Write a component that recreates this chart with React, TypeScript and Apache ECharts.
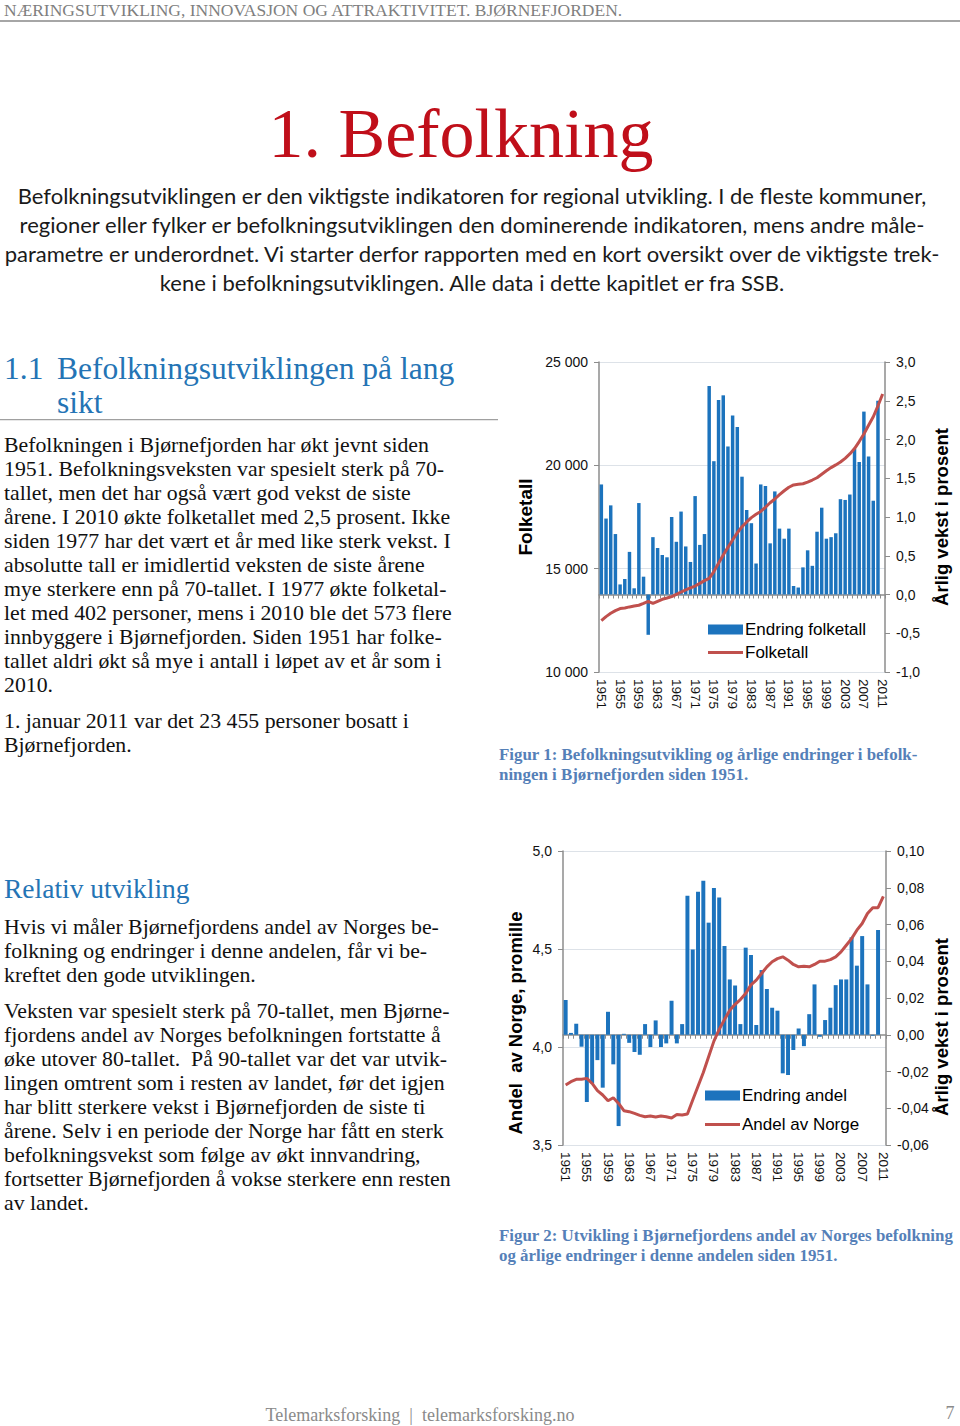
import React, { useEffect, useRef } from "react";
import * as echarts from "echarts";

const years = [
  1951, 1952, 1953, 1954, 1955, 1956, 1957, 1958, 1959, 1960,
  1961, 1962, 1963, 1964, 1965, 1966, 1967, 1968, 1969, 1970,
  1971, 1972, 1973, 1974, 1975, 1976, 1977, 1978, 1979, 1980,
  1981, 1982, 1983, 1984, 1985, 1986, 1987, 1988, 1989, 1990,
  1991, 1992, 1993, 1994, 1995, 1996, 1997, 1998, 1999, 2000,
  2001, 2002, 2003, 2004, 2005, 2006, 2007, 2008, 2009, 2010, 2011,
].map(String);

// Figur 1: årlig vekst i prosent (stolper) og folketall (linje)
const endringFolketall = [
  1.42, 0.98, 1.15, 0.78, 0.13, 0.2, 0.55, 0.08, 1.18, 0.23,
  -0.52, 0.74, 0.6, 0.51, 0.48, 1.0, 0.68, 1.07, 0.62, 0.42,
  1.27, 0.64, 0.78, 2.69, 1.72, 2.51, 2.57, 1.91, 2.31, 2.16,
  1.52, 1.09, 0.92, 0.4, 1.42, 1.4, 0.66, 1.33, 0.85, 0.72,
  0.85, 0.11, 0.09, 0.35, 0.57, 0.37, 0.81, 1.12, 0.72, 0.74,
  0.79, 1.23, 1.22, 1.29, 1.88, 1.71, 2.36, 1.78, 1.21, 2.5, null,
];
const folketall = [
  12480, 12680, 12840, 12970, 13070, 13100, 13150, 13190, 13230, 13320,
  13420, 13320, 13420, 13520, 13580, 13650, 13760, 13870, 13970, 14070,
  14160, 14290, 14420, 14530, 14860, 15260, 15660, 16030, 16390, 16740,
  17030, 17260, 17470, 17630, 17770, 17970, 18190, 18370, 18580, 18770,
  18940, 19050, 19080, 19110, 19190, 19290, 19400, 19570, 19740, 19890,
  20020, 20160, 20340, 20550, 20810, 21150, 21520, 21940, 22350, 22880, 23455,
];

// Figur 2: endring i andel (stolper) og andel av Norge, promille (linje)
const endringAndel = [
  0.0189, 0.001, 0.006, -0.0065, -0.0366, -0.0265, -0.0138, -0.0288, 0.0125, -0.0161,
  -0.0497, 0.0005, -0.0044, -0.0094, -0.0109, 0.0058, -0.0067, 0.0078, -0.0067, -0.0047,
  0.0185, -0.0047, 0.0058, 0.0757, 0.0464, 0.0778, 0.0838, 0.061, 0.0798, 0.0747,
  0.0483, 0.0301, 0.0268, 0.0058, 0.0474, 0.0434, 0.0053, 0.0352, 0.0249, 0.0147,
  0.0131, -0.021, -0.0219, -0.0083, 0.0034, -0.0062, 0.0112, 0.0274, -0.0011, 0.008,
  0.0147, 0.027, 0.0301, 0.0301, 0.053, 0.0376, 0.0537, 0.0274, -0.0005, 0.057, null,
];
const andelAvNorge = [
  3.806, 3.823, 3.835, 3.836, 3.84, 3.814, 3.777, 3.755, 3.726, 3.741,
  3.712, 3.675, 3.67, 3.661, 3.651, 3.644, 3.648, 3.643, 3.648, 3.644,
  3.638, 3.656, 3.653, 3.658, 3.73, 3.8, 3.87, 3.95, 4.03, 4.09,
  4.14, 4.188, 4.218, 4.242, 4.273, 4.317, 4.341, 4.375, 4.409, 4.435,
  4.451, 4.46, 4.443, 4.421, 4.409, 4.412, 4.409, 4.421, 4.438, 4.438,
  4.446, 4.46, 4.485, 4.519, 4.553, 4.596, 4.63, 4.681, 4.711, 4.711, 4.769,
];

const headerText = "NÆRINGSUTVIKLING, INNOVASJON OG ATTRAKTIVITET. BJØRNEFJORDEN.";
const titleText = "1. Befolkning";
const introLines = [
  "Befolkningsutviklingen er den viktigste indikatoren for regional utvikling. I de fleste kommuner,",
  "regioner eller fylker er befolkningsutviklingen den dominerende indikatoren, mens andre måle-",
  "parametre er underordnet. Vi starter derfor rapporten med en kort oversikt over de viktigste trek-",
  "kene i befolkningsutviklingen. Alle data i dette kapitlet er fra SSB.",
];
const para1Lines = [
  "Befolkningen i Bjørnefjorden har økt jevnt siden",
  "1951. Befolkningsveksten var spesielt sterk på 70-",
  "tallet, men det har også vært god vekst de siste",
  "årene. I 2010 økte folketallet med 2,5 prosent. Ikke",
  "siden 1977 har det vært et år med like sterk vekst. I",
  "absolutte tall er imidlertid veksten de siste årene",
  "mye sterkere enn på 70-tallet. I 1977 økte folketal-",
  "let med 402 personer, mens i 2010 ble det 573 flere",
  "innbyggere i Bjørnefjorden. Siden 1951 har folke-",
  "tallet aldri økt så mye i antall i løpet av et år som i",
  "2010.",
];
const para2Lines = ["1. januar 2011 var det 23 455 personer bosatt i", "Bjørnefjorden."];
const para3Lines = [
  "Hvis vi måler Bjørnefjordens andel av Norges be-",
  "folkning og endringer i denne andelen, får vi be-",
  "kreftet den gode utviklingen.",
];
const para4Lines = [
  "Veksten var spesielt sterk på 70-tallet, men Bjørne-",
  "fjordens andel av Norges befolkningen fortstatte å",
  "øke utover 80-tallet.  På 90-tallet var det var utvik-",
  "lingen omtrent som i resten av landet, før det igjen",
  "har blitt sterkere vekst i Bjørnefjorden de siste ti",
  "årene. Selv i en periode der Norge har fått en sterk",
  "befolkningsvekst som følge av økt innvandring,",
  "fortsetter Bjørnefjorden å vokse sterkere enn resten",
  "av landet.",
];
const caption1 = [
  "Figur 1: Befolkningsutvikling og årlige endringer i befolk-",
  "ningen i Bjørnefjorden siden 1951.",
];
const caption2 = [
  "Figur 2: Utvikling i Bjørnefjordens andel av Norges befolkning",
  "og årlige endringer i denne andelen siden 1951.",
];

const SERIF = '"Liberation Serif", "Times New Roman", serif';
const SANS = '"Liberation Sans", Arial, sans-serif';
const BLUE_HEAD = "#2474b5";
const CAPTION = "#5580b8";
const BAR = "#1c73bd";
const LINE = "#c0504d";
const AXIS = "#8c8c8c";
const LINE_ICON = "path://M0,0 M35,10 M0,3.5 L35,3.5 L35,6.5 L0,6.5 Z";

function txt(x: number, y: number, text: string, font: string, fill: string, align = "left", rotation = 0) {
  return {
    type: "text",
    x,
    y,
    rotation,
    silent: true,
    style: { text, font, fill, align, verticalAlign: "middle" },
  };
}

function linesAt(x: number, y0: number, step: number, lines: string[], font: string, fill: string, align = "left") {
  return lines.map((l, i) => txt(x, y0 + i * step, l, font, fill, align));
}

const fmtThousand = (v: number) => String(Math.round(v)).replace(/\B(?=(\d{3})+(?!\d))/g, " ");
const fmtDec = (d: number) => (v: number) => (Math.abs(v) < 1e-9 ? 0 : v).toFixed(d).replace(".", ",");

function catAxis(gridIndex: number) {
  return {
    type: "category",
    gridIndex,
    data: years,
    axisLine: { lineStyle: { color: AXIS, width: 1.5 } },
    axisTick: { show: true, interval: 0, length: 4, lineStyle: { color: AXIS } },
    axisLabel: {
      interval: 3,
      rotate: -90,
      fontFamily: SANS,
      fontSize: 13.5,
      color: "#111",
      margin: 7,
    },
  };
}

function valAxis(gridIndex: number, min: number, max: number, interval: number, pos: string, fmt: (v: number) => string, split: boolean) {
  return {
    type: "value",
    gridIndex,
    position: pos,
    min,
    max,
    interval,
    axisLine: { show: true, lineStyle: { color: AXIS, width: 1.5 } },
    axisTick: { show: true, length: 5, lineStyle: { color: AXIS } },
    axisLabel: { formatter: fmt, fontFamily: SANS, fontSize: 14, color: "#111", margin: 11 },
    splitLine: { show: split, lineStyle: { color: "#dde2e8", width: 1 } },
  };
}

function legendCfg(barName: string, lineName: string, left: number, top: number, gap: number) {
  return {
    data: [
      { name: barName, icon: "rect" },
      { name: lineName, icon: LINE_ICON },
    ],
    left,
    top,
    orient: "vertical",
    itemWidth: 35,
    itemHeight: 10,
    itemGap: gap,
    textStyle: { fontFamily: SANS, fontSize: 17, color: "#000", padding: [0, 0, 0, -3] },
    selectedMode: false,
  };
}

export default function App() {
  const ref = useRef<HTMLDivElement>(null);
  useEffect(() => {
    if (!ref.current) return;
    const chart = echarts.init(ref.current, undefined, { renderer: "svg" });
    const body = `21.8px ${SERIF}`;
    const graphic: any[] = [
      txt(4, 10, headerText, `17.5px ${SERIF}`, "#7f7f7f"),
      { type: "rect", silent: true, shape: { x: 0, y: 20, width: 960, height: 2 }, style: { fill: "#a6a6a6" } },
      txt(461, 133, titleText, `70px ${SERIF}`, "#c00f1a", "center"),
      ...linesAt(472, 195, 29, introLines, `22px Lato, "Open Sans", sans-serif`, "#1a1a1a", "center"),
      txt(4, 368, "1.1", `31.5px ${SERIF}`, BLUE_HEAD),
      txt(57, 368, "Befolkningsutviklingen på lang", `31.5px ${SERIF}`, BLUE_HEAD),
      txt(57, 402, "sikt", `31.5px ${SERIF}`, BLUE_HEAD),
      { type: "rect", silent: true, shape: { x: 0, y: 419, width: 498, height: 1.2 }, style: { fill: "#a0a0a0" } },
      ...linesAt(4, 445, 24, para1Lines, body, "#111"),
      ...linesAt(4, 721, 24, para2Lines, body, "#111"),
      txt(4, 888, "Relativ utvikling", `27.5px ${SERIF}`, BLUE_HEAD),
      ...linesAt(4, 927, 24, para3Lines, body, "#111"),
      ...linesAt(4, 1011, 24, para4Lines, body, "#111"),
      ...linesAt(499, 754, 20, caption1, `bold 16.9px ${SERIF}`, CAPTION),
      ...linesAt(499, 1235, 20, caption2, `bold 16.9px ${SERIF}`, CAPTION),
      txt(525, 517, "Folketall", `bold 19px ${SANS}`, "#000", "center", Math.PI / 2),
      txt(941, 517, "Årlig vekst i prosent", `bold 18.5px ${SANS}`, "#000", "center", Math.PI / 2),
      txt(515, 1023, "Andel  av Norge, promille", `bold 18.5px ${SANS}`, "#000", "center", Math.PI / 2),
      txt(941, 1027, "Årlig vekst i prosent", `bold 18.5px ${SANS}`, "#000", "center", Math.PI / 2),
      txt(420, 1415, "Telemarksforsking  |  telemarksforsking.no", `18px ${SERIF}`, "#8a8a8a", "center"),
      txt(950, 1413, "7", `18px ${SERIF}`, "#8a8a8a", "center"),
    ];

    const option: any = {
      animation: false,
      backgroundColor: "#ffffff",
      textStyle: { fontFamily: SANS },
      grid: [
        { left: 599, top: 362, width: 286, height: 310 },
        { left: 563, top: 851, width: 323, height: 294 },
      ],
      xAxis: [catAxis(0), catAxis(1)],
      yAxis: [
        valAxis(0, 10000, 25000, 5000, "left", fmtThousand, true),
        valAxis(0, -1, 3, 0.5, "right", fmtDec(1), false),
        valAxis(1, 3.5, 5, 0.5, "left", fmtDec(1), true),
        valAxis(1, -0.06, 0.1, 0.02, "right", fmtDec(2), false),
      ],
      legend: [
        legendCfg("Endring folketall", "Folketall", 703, 616, 6),
        legendCfg("Endring andel", "Andel av Norge", 700, 1082, 12),
      ],
      series: [
        {
          name: "Endring folketall",
          type: "bar",
          xAxisIndex: 0,
          yAxisIndex: 1,
          data: endringFolketall,
          barCategoryGap: "26%",
          itemStyle: { color: BAR },
        },
        {
          name: "Folketall",
          type: "line",
          xAxisIndex: 0,
          yAxisIndex: 0,
          data: folketall,
          symbol: "none",
          lineStyle: { color: LINE, width: 3 },
          itemStyle: { color: LINE },
        },
        {
          name: "Endring andel",
          type: "bar",
          xAxisIndex: 1,
          yAxisIndex: 3,
          data: endringAndel,
          barCategoryGap: "25%",
          itemStyle: { color: BAR },
        },
        {
          name: "Andel av Norge",
          type: "line",
          xAxisIndex: 1,
          yAxisIndex: 2,
          data: andelAvNorge,
          symbol: "none",
          lineStyle: { color: LINE, width: 3 },
          itemStyle: { color: LINE },
        },
      ],
      graphic,
    };
    chart.setOption(option);
    return () => chart.dispose();
  }, []);

  return (
    <div
      ref={ref}
      style={{ position: "absolute", left: 0, top: 0, width: 960, height: 1426, background: "#fff" }}
    />
  );
}
